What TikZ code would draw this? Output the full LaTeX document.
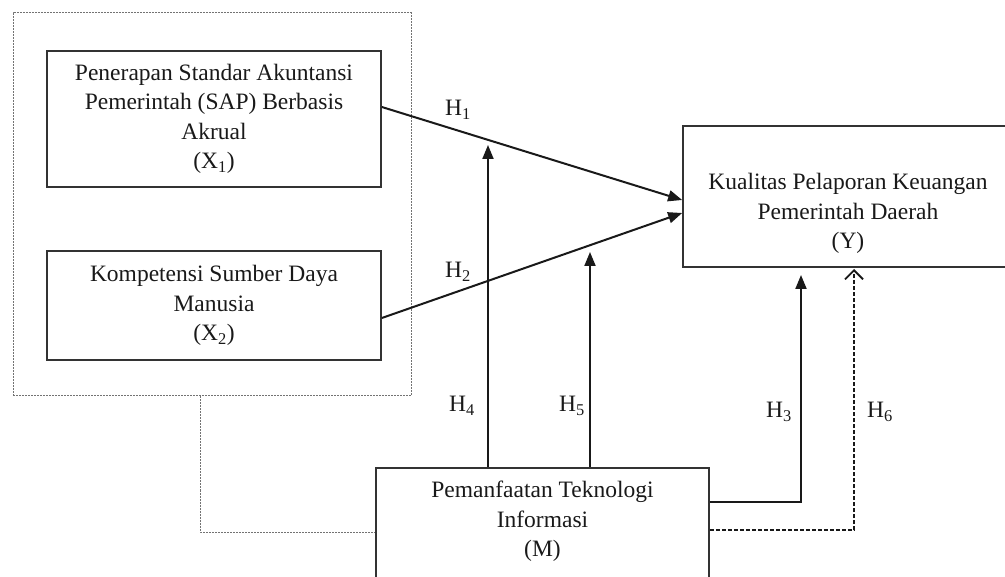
\documentclass[tikz,border=0pt]{standalone}
\usepackage{fontspec}
\setmainfont{Liberation Serif}
\usetikzlibrary{arrows.meta}
\begin{document}
\begin{tikzpicture}[x=1pt,y=-1pt,
  varbox/.style={draw=black!80, line width=1.7pt, align=center, font=\fontsize{23.5}{29.5}\selectfont, text=black!90, inner sep=4pt},
  grpbox/.style={draw=black!55, line width=1pt, dash pattern=on 2pt off 1pt, inner sep=0pt},
  link/.style={draw=black!90, line width=2pt, -{Triangle[length=14pt,width=11pt]}},
  linkdash/.style={draw=black!90, line width=1.8pt, dash pattern=on 4pt off 2pt, -{Straight Barb[length=9pt,width=18pt]}},
  guide/.style={draw=black!55, line width=1pt, dash pattern=on 2pt off 1pt},
  hlabel/.style={font=\fontsize{23.5}{28}\selectfont, text=black!90, inner sep=0pt}
]
\useasboundingbox (0,0) rectangle (1005,577);
\clip (0,0) rectangle (1005,577);

\node[grpbox, minimum width=398pt, minimum height=383pt] (grp) at (212,204.5) {};
\node[varbox, minimum width=334pt, minimum height=136pt] (X1) at (214,119)
  {Penerapan Standar Akuntansi\\Pemerintah (SAP) Berbasis\\Akrual\\(X\textsubscript{1})};
\node[varbox, minimum width=334pt, minimum height=109pt] (X2) at (214,305.5)
  {Kompetensi Sumber Daya\\Manusia\\(X\textsubscript{2})};
\node[varbox, minimum width=330pt, minimum height=141pt] (Y) at (848,196.5)
  {\strut\\Kualitas Pelaporan Keuangan\\Pemerintah Daerah\\(Y)};
\node[varbox, anchor=north, minimum width=333pt, inner ysep=0pt, text height=89pt, text depth=60pt] (M) at (542.5,467)
  {Pemanfaatan Teknologi\\Informasi\\(M)};

\draw[link] ([yshift=12pt]X1.east) -- ([yshift=-3.5pt]Y.west);
\draw[link] ([yshift=-12.5pt]X2.east) -- ([yshift=-16.5pt]Y.west);

\coordinate (h4top) at (488,145);
\draw[link] (M.north -| h4top) -- (h4top);
\coordinate (h5top) at (590,252);
\draw[link] (M.north -| h5top) -- (h5top);

\coordinate (h3bend) at (801,502);
\coordinate (h3top) at (801,275);
\draw[link] (M.east |- h3bend) -- (h3bend) -- (h3top);

\coordinate (h6bend) at (854,530);
\coordinate (h6top) at (854,269);
\draw[linkdash] (M.east |- h6bend) -- (h6bend) -- (h6top);

\coordinate (gbend) at (200.5,532);
\draw[guide] (grp.south -| gbend) -- (gbend) -- (gbend -| M.west);

\node[hlabel] (lh1) at (458,110) {H\textsubscript{1}};
\node[hlabel] (lh2) at (458,272) {H\textsubscript{2}};
\node[hlabel] (lh4) at (462,406) {H\textsubscript{4}};
\node[hlabel] (lh5) at (572,406) {H\textsubscript{5}};
\node[hlabel] (lh3) at (779,412) {H\textsubscript{3}};
\node[hlabel] (lh6) at (880,412) {H\textsubscript{6}};
\end{tikzpicture}
\end{document}
